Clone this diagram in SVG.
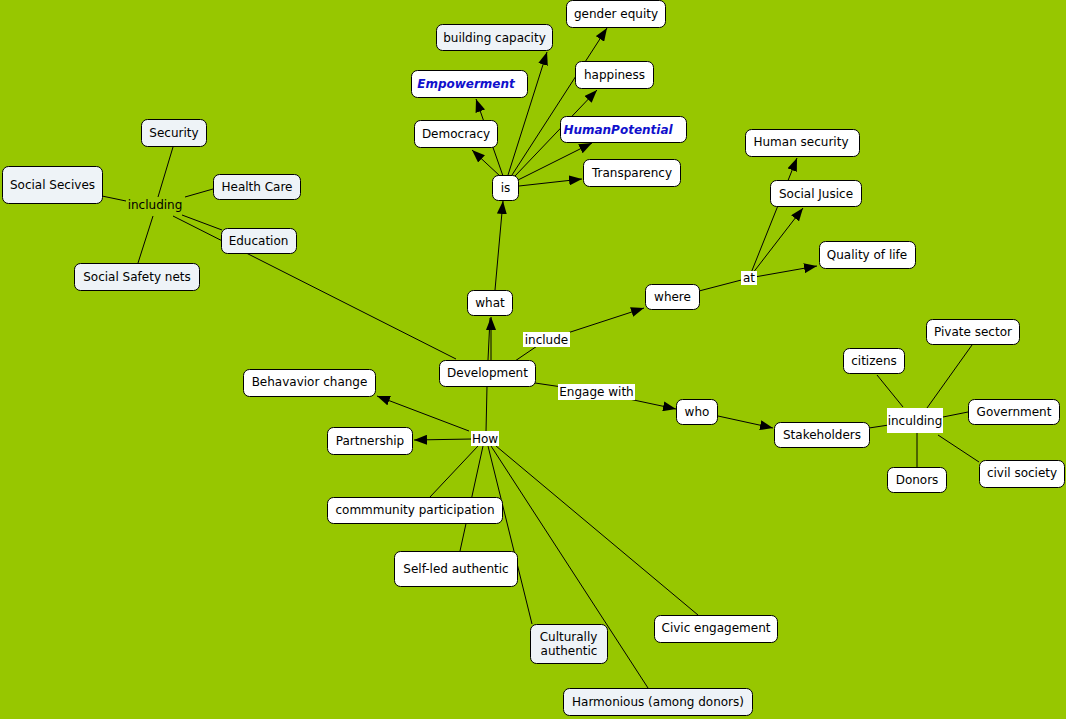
<svg xmlns="http://www.w3.org/2000/svg" width="1066" height="719" viewBox="0 0 1066 719">
<style>
.bg{fill:#97c700}
.n rect{fill:#ffffff;stroke:#000;stroke-width:1}
.n.b rect{fill:#eef3f7}
.n text,.lbl text{font-family:"DejaVu Sans",Verdana,sans-serif;font-size:12px;fill:#000;text-anchor:middle;dominant-baseline:central}
.n.e text{font-weight:bold;font-style:italic;fill:#1010cc}
.lbl rect{fill:#ffffff;stroke:none}
#connectors line,#connectors path{stroke:#000;stroke-width:1;fill:none}
.a{marker-end:url(#arr)}
</style>
<defs>
<marker id="arr" markerUnits="userSpaceOnUse" markerWidth="14" markerHeight="10" refX="13" refY="5" orient="auto">
<path d="M0,0 L13,5 L0,10 z" fill="#000"/>
</marker>
</defs>
<rect class="bg" x="0" y="0" width="1066" height="719"/>
<g id="connectors">
<line class="a" x1="500" y1="176" x2="472" y2="150"/>
<line class="a" x1="503" y1="176" x2="476" y2="99"/>
<line class="a" x1="508" y1="175" x2="547" y2="52"/>
<line class="a" x1="512" y1="175" x2="607" y2="28"/>
<line class="a" x1="515" y1="176" x2="597" y2="90"/>
<line class="a" x1="518" y1="180" x2="592" y2="143"/>
<line class="a" x1="519" y1="186" x2="582" y2="179"/>
<line class="a" x1="495" y1="290" x2="503" y2="201"/>
<line x1="488" y1="360" x2="490" y2="318"/>
<line class="a" x1="491" y1="360" x2="491" y2="317"/>
<line x1="515" y1="361" x2="546" y2="340"/>
<line class="a" x1="546" y1="340" x2="644" y2="308"/>
<line x1="535" y1="383" x2="596" y2="392"/>
<line class="a" x1="596" y1="392" x2="676" y2="409"/>
<line class="a" x1="718" y1="416" x2="773" y2="428"/>
<line x1="699" y1="291" x2="749" y2="278"/>
<line class="a" x1="749" y1="278" x2="817" y2="266"/>
<line class="a" x1="749" y1="278" x2="803" y2="208"/>
<line class="a" x1="749" y1="278" x2="797" y2="158"/>
<line x1="869" y1="428" x2="915" y2="421"/>
<line x1="903" y1="407" x2="877" y2="375"/>
<line x1="927" y1="408" x2="972" y2="345"/>
<line x1="943" y1="417" x2="968" y2="412"/>
<line x1="938" y1="435" x2="979" y2="462"/>
<line x1="917" y1="433" x2="917" y2="467"/>
<line x1="173" y1="147" x2="158" y2="197"/>
<line x1="102" y1="196" x2="126" y2="201"/>
<line x1="185" y1="197" x2="213" y2="189"/>
<line x1="182" y1="215" x2="222" y2="230"/>
<line x1="173" y1="216" x2="456" y2="359"/>
<line x1="153" y1="216" x2="138" y2="263"/>
<line class="a" x1="469" y1="431" x2="377" y2="396"/>
<line class="a" x1="472" y1="439" x2="414" y2="440"/>
<line x1="487" y1="386" x2="486" y2="432"/>
<line x1="478" y1="446" x2="430" y2="497"/>
<line x1="483" y1="446" x2="460" y2="551"/>
<line x1="488" y1="446" x2="532" y2="624"/>
<line x1="491" y1="446" x2="648" y2="688"/>
<line x1="496" y1="446" x2="698" y2="615"/>
</g>
<g id="lbl-including" class="lbl"><text x="155" y="205">including</text></g>
<g id="lbl-include" class="lbl"><rect x="523" y="332" width="47" height="15"/><text x="546.5" y="340">include</text></g>
<g id="lbl-engage" class="lbl"><rect x="558" y="384" width="77" height="16"/><text x="596.5" y="392">Engage with</text></g>
<g id="lbl-how" class="lbl"><rect x="471" y="431" width="28" height="15"/><text x="485" y="438.5">How</text></g>
<g id="lbl-at" class="lbl"><rect x="741" y="271" width="16" height="14"/><text x="749" y="278">at</text></g>
<g id="lbl-inculding" class="lbl"><rect x="887" y="408" width="56" height="25"/><text x="915" y="420.5">inculding</text></g>
<g id="n-gender" class="n"><rect x="566.5" y="0.5" width="99" height="27" rx="6"/><text x="616" y="13.5">gender equity</text></g>
<g id="n-building" class="n b"><rect x="436.5" y="24.5" width="116" height="26" rx="6"/><text x="494.5" y="37.5">building capacity</text></g>
<g id="n-happiness" class="n"><rect x="575.5" y="61.5" width="78" height="27" rx="6"/><text x="614.5" y="75">happiness</text></g>
<g id="n-empowerment" class="n e"><rect x="411.5" y="70.5" width="116" height="27" rx="6"/><text x="466" y="84">Empowerment</text></g>
<g id="n-humanpotential" class="n e"><rect x="560.5" y="116.5" width="126" height="26" rx="6"/><text x="618" y="129.5">HumanPotential</text></g>
<g id="n-democracy" class="n"><rect x="414.5" y="120.5" width="83" height="27" rx="6"/><text x="456" y="134">Democracy</text></g>
<g id="n-transparency" class="n"><rect x="583.5" y="159.5" width="97" height="27" rx="6"/><text x="632" y="172.5">Transparency</text></g>
<g id="n-is" class="n"><rect x="492.5" y="175.5" width="26" height="25" rx="6"/><text x="505.5" y="188">is</text></g>
<g id="n-humansecurity" class="n"><rect x="745.5" y="129.5" width="114" height="27" rx="6"/><text x="801" y="142">Human security</text></g>
<g id="n-socialjusice" class="n"><rect x="770.5" y="180.5" width="91" height="26" rx="6"/><text x="816" y="193.5">Social Jusice</text></g>
<g id="n-quality" class="n"><rect x="819.5" y="241.5" width="96" height="27" rx="6"/><text x="867" y="254.5">Quality of life</text></g>
<g id="n-security" class="n b"><rect x="141.5" y="119.5" width="65" height="27" rx="6"/><text x="174" y="132.5">Security</text></g>
<g id="n-socialsecives" class="n b"><rect x="2.5" y="166.5" width="100" height="37" rx="6"/><text x="52.5" y="185">Social Secives</text></g>
<g id="n-healthcare" class="n b"><rect x="213.5" y="174.5" width="87" height="25" rx="6"/><text x="257" y="187">Health Care</text></g>
<g id="n-education" class="n b"><rect x="221.5" y="228.5" width="75" height="25" rx="6"/><text x="258.5" y="241">Education</text></g>
<g id="n-safetynets" class="n b"><rect x="74.5" y="263.5" width="125" height="27" rx="6"/><text x="137" y="276.5">Social Safety nets</text></g>
<g id="n-what" class="n"><rect x="467.5" y="290.5" width="45" height="25" rx="6"/><text x="490" y="303">what</text></g>
<g id="n-where" class="n"><rect x="645.5" y="284.5" width="54" height="25" rx="6"/><text x="672.5" y="297">where</text></g>
<g id="n-development" class="n"><rect x="439.5" y="360.5" width="96" height="26" rx="6"/><text x="487.5" y="373">Development</text></g>
<g id="n-behavior" class="n"><rect x="243.5" y="369.5" width="132" height="27" rx="6"/><text x="309.5" y="382">Behavavior change</text></g>
<g id="n-partnership" class="n"><rect x="327.5" y="427.5" width="85" height="27" rx="6"/><text x="370" y="440.5">Partnership</text></g>
<g id="n-who" class="n"><rect x="676.5" y="399.5" width="41" height="25" rx="6"/><text x="697" y="412">who</text></g>
<g id="n-stakeholders" class="n"><rect x="774.5" y="422.5" width="95" height="25" rx="6"/><text x="822" y="435">Stakeholders</text></g>
<g id="n-citizens" class="n"><rect x="843.5" y="348.5" width="61" height="25" rx="6"/><text x="874" y="361">citizens</text></g>
<g id="n-private" class="n"><rect x="926.5" y="319.5" width="93" height="25" rx="6"/><text x="973" y="332">Pivate sector</text></g>
<g id="n-government" class="n"><rect x="968.5" y="399.5" width="91" height="25" rx="6"/><text x="1014" y="411.5">Government</text></g>
<g id="n-civil" class="n"><rect x="979.5" y="460.5" width="85" height="27" rx="6"/><text x="1022" y="473">civil society</text></g>
<g id="n-donors" class="n"><rect x="887.5" y="467.5" width="59" height="25" rx="6"/><text x="917" y="480">Donors</text></g>
<g id="n-community" class="n"><rect x="327.5" y="497.5" width="175" height="26" rx="6"/><text x="415" y="510">commmunity participation</text></g>
<g id="n-selfled" class="n"><rect x="394.5" y="551.5" width="123" height="35" rx="6"/><text x="456" y="569">Self-led authentic</text></g>
<g id="n-culturally" class="n b"><rect x="530.5" y="624.5" width="77" height="39" rx="6"/><text x="568.5" y="637">Culturally</text><text x="569" y="651">authentic</text></g>
<g id="n-civic" class="n"><rect x="654.5" y="615.5" width="123" height="27" rx="6"/><text x="716" y="628">Civic engagement</text></g>
<g id="n-harmonious" class="n b"><rect x="563.5" y="688.5" width="189" height="27" rx="6"/><text x="658" y="701.5">Harmonious (among donors)</text></g>
</svg>
